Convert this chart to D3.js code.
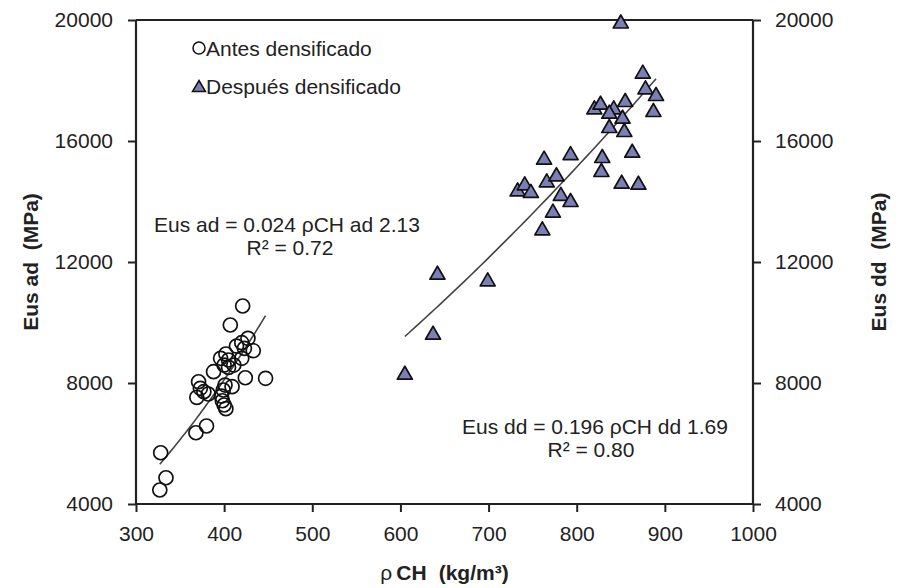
<!DOCTYPE html>
<html>
<head>
<meta charset="utf-8">
<script src="https://cdn.jsdelivr.net/npm/d3@7"></script>
<style>
  html, body { margin: 0; padding: 0; background: #fff; }
  svg text { font-family: "Liberation Sans", Arial, sans-serif; fill: #222; }
</style>
</head>
<body>
<svg id="chart" width="900" height="588"></svg>
<script>
// ---- data ----
const antesDensity = [421, 407, 427, 420, 414, 423, 433, 420, 402, 396, 405, 411, 400, 405, 388, 424, 447, 371, 373, 377, 382, 369, 401, 409, 399, 397, 398, 400, 402, 380, 368, 328, 334, 327];
const antesEus     = [10545, 9917, 9477, 9332, 9222, 9146, 9067, 8816, 8958, 8816, 8760, 8594, 8594, 8518, 8373, 8174, 8155, 8042, 7824, 7712, 7636, 7526, 7933, 7877, 7768, 7569, 7414, 7272, 7150, 6578, 6356, 5695, 4868, 4462];

const despuesDensity = [850, 875, 878, 890, 820, 827, 842, 855, 887, 837, 852, 837, 854, 863, 829, 828, 851, 870, 761, 642, 699, 637, 605, 763, 793, 733, 741, 748, 766, 777, 782, 773, 793];
const despuesEus     = [19950, 18291, 17775, 17554, 17114, 17266, 17114, 17355, 17025, 16968, 16803, 16496, 16363, 15679, 15504, 15041, 14654, 14621, 13114, 11646, 11428, 9662, 8340, 15450, 15600, 14400, 14600, 14350, 14700, 14900, 14250, 13700, 14050];

const xTicks = [300, 400, 500, 600, 700, 800, 900, 1000];
const yTicks = [4000, 8000, 12000, 16000, 20000];

const legendLabels = ["Antes densificado", "Después densificado"];
const eqAd = ["Eus ad = 0.024 ρCH ad 2.13", "R² = 0.72"];
const eqDd = ["Eus dd = 0.196 ρCH dd 1.69", "R² = 0.80"];

// ---- layout ----
const svg = d3.select("#chart");
const L = 136, R = 753, T = 20, B = 504;
const x = d3.scaleLinear().domain([300, 1000]).range([L, R]);
const y = d3.scaleLinear().domain([4000, 20000]).range([B, T]);
const axisColor = "#222";
const fs = 21;

// axes
const gx = svg.append("g").attr("transform", `translate(0,${B})`)
  .call(d3.axisBottom(x).tickValues(xTicks).tickSize(8).tickPadding(14).tickFormat(d3.format("d")));
const gyl = svg.append("g").attr("transform", `translate(${L},0)`)
  .call(d3.axisLeft(y).tickValues(yTicks).tickSize(8).tickPadding(15).tickFormat(d3.format("d")));
const gyr = svg.append("g").attr("transform", `translate(${R},0)`)
  .call(d3.axisRight(y).tickValues(yTicks).tickSize(8).tickPadding(14).tickFormat(d3.format("d")));
[gx, gyl, gyr].forEach(g => {
  g.select(".domain").attr("stroke", axisColor).attr("stroke-width", 2.2);
  g.selectAll(".tick line").attr("stroke", axisColor).attr("stroke-width", 2);
  g.selectAll(".tick text").attr("font-size", fs).attr("fill", "#222")
   .style("font-family", "'Liberation Sans', Arial, sans-serif");
});
gx.select(".domain").attr("d", `M${L},0H${R}`);
gyl.select(".domain").attr("d", `M0,${B}V${T}`);
gyr.select(".domain").attr("d", `M0,${B}V${T}`);
// top border
svg.append("line").attr("x1", L).attr("x2", R).attr("y1", T).attr("y2", T)
  .attr("stroke", axisColor).attr("stroke-width", 2.2);

// power trend (least squares on log-log, like a spreadsheet power trendline)
function powerFit(xs, ys) {
  const lx = xs.map(Math.log), ly = ys.map(Math.log);
  const mx = d3.mean(lx), my = d3.mean(ly);
  const b = d3.sum(lx, (v, i) => (v - mx) * (ly[i] - my)) / d3.sum(lx, v => (v - mx) ** 2);
  const a = Math.exp(my - b * mx);
  return { a, b, x0: d3.min(xs), x1: d3.max(xs) };
}
function drawTrend(fit) {
  const pts = d3.range(0, 51).map(i => {
    const xv = fit.x0 + (fit.x1 - fit.x0) * i / 50;
    return [xv, fit.a * Math.pow(xv, fit.b)];
  });
  svg.append("path")
    .attr("d", d3.line().x(d => x(d[0])).y(d => y(d[1]))(pts))
    .attr("fill", "none").attr("stroke", "#444").attr("stroke-width", 1.6);
}
drawTrend(powerFit(antesDensity, antesEus));
drawTrend(powerFit(despuesDensity, despuesEus));

// markers
const triPath = "M0,-6.5L7.5,6.5L-7.5,6.5Z";
const triFill = "#7C7EB6";
svg.append("g").selectAll("circle")
  .data(antesDensity.map((d, i) => [d, antesEus[i]]))
  .join("circle")
  .attr("cx", d => x(d[0])).attr("cy", d => y(d[1])).attr("r", 7)
  .attr("fill", "none").attr("stroke", "#111").attr("stroke-width", 1.7);
svg.append("g").selectAll("path")
  .data(despuesDensity.map((d, i) => [d, despuesEus[i]]))
  .join("path")
  .attr("transform", d => `translate(${x(d[0])},${y(d[1])})`)
  .attr("d", triPath)
  .attr("fill", triFill).attr("stroke", "#111").attr("stroke-width", 1.7).attr("stroke-linejoin", "round");

// legend
const lgX = 199;
svg.append("circle").attr("cx", lgX).attr("cy", 48).attr("r", 6)
  .attr("fill", "none").attr("stroke", "#111").attr("stroke-width", 1.5);
svg.append("text").attr("x", lgX + 7).attr("y", 55.5).attr("font-size", fs).text(legendLabels[0]);
svg.append("path").attr("transform", `translate(${lgX},86)`).attr("d", "M0,-5.5L6.5,5.5L-6.5,5.5Z")
  .attr("fill", triFill).attr("stroke", "#111").attr("stroke-width", 1.5);
svg.append("text").attr("x", lgX + 7).attr("y", 93.5).attr("font-size", fs).text(legendLabels[1]);

// equations
svg.append("text").attr("x", 287).attr("y", 232).attr("text-anchor", "middle").attr("font-size", fs).text(eqAd[0]);
svg.append("text").attr("x", 290).attr("y", 255).attr("text-anchor", "middle").attr("font-size", fs).text(eqAd[1]);
svg.append("text").attr("x", 595).attr("y", 434).attr("text-anchor", "middle").attr("font-size", fs).text(eqDd[0]);
svg.append("text").attr("x", 591).attr("y", 457).attr("text-anchor", "middle").attr("font-size", fs).text(eqDd[1]);

// axis titles
const xt = svg.append("text").attr("x", (L + R) / 2).attr("y", 580).attr("text-anchor", "middle").attr("font-size", fs);
xt.append("tspan").text("ρ");
xt.append("tspan").attr("dx", 4).attr("font-weight", "bold").text("CH");
xt.append("tspan").attr("dx", 12).attr("font-weight", "bold").text("(kg/m³)");
svg.append("text").attr("transform", `translate(38,${(T + B) / 2}) rotate(-90)`)
  .attr("text-anchor", "middle").attr("font-size", fs).attr("font-weight", "bold")
  .style("white-space", "pre").text("Eus ad  (MPa)");
svg.append("text").attr("transform", `translate(886,${(T + B) / 2}) rotate(-90)`)
  .attr("text-anchor", "middle").attr("font-size", fs).attr("font-weight", "bold")
  .style("white-space", "pre").text("Eus dd  (MPa)");
</script>
</body>
</html>
